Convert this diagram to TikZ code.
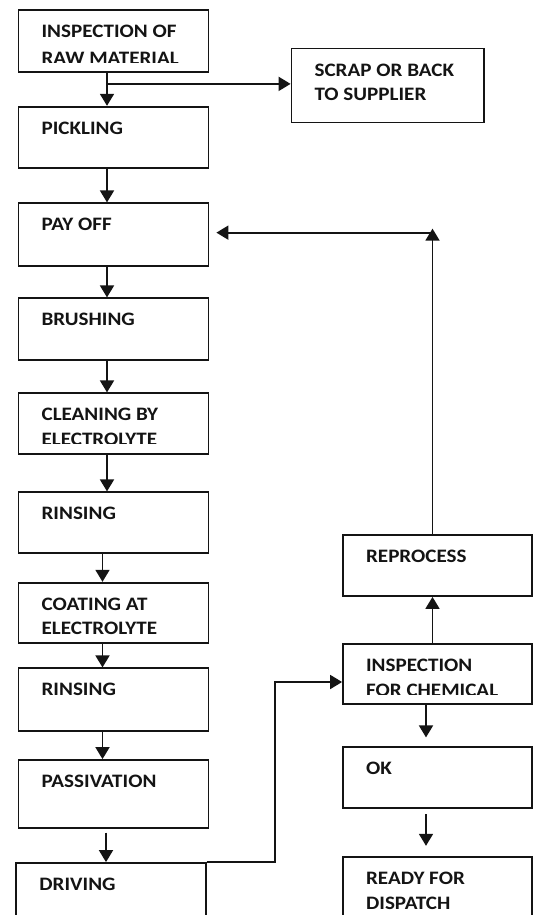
\documentclass[tikz,border=0pt]{standalone}
\usepackage{fontspec}
\setmainfont[FakeStretch=1.11]{Carlito}
\usetikzlibrary{arrows.meta,calc}
\definecolor{linec}{RGB}{20,20,20}
\newcommand\flowlabel[5][25]{%
  \begin{scope}
    \clip (#2.north west) rectangle ($(#2.south east)+(0,-#5)$);
    \node[lbl,anchor=base west] (#2-a) at ($(#2.north west)+(24,28.5)$) {#3};
    \node[lbl,anchor=base west] (#2-b) at ($(#2.north west)+(24,28.5+#1)$) {#4};
  \end{scope}}
\begin{document}
\begin{tikzpicture}[x=1pt,y=-1pt,
  lbl/.style={inner sep=0pt,outer sep=0pt,text=linec,font=\bfseries\fontsize{19}{25}\selectfont},
  flowbox/.style={draw=linec,line width=1.8pt,rectangle,inner sep=0pt},
  arr/.style={draw=linec,line width=1.8pt,-{Triangle[length=12pt,width=14pt]}}]
\useasboundingbox (0,0) rectangle (533,915);
\clip (0,0) rectangle (533,915);
\fill[white] (0,0) rectangle (533,915);

% left column
\node[flowbox,minimum width=190pt,minimum height=62pt] (insp) at (113.5,41) {};
\node[flowbox,minimum width=190pt,minimum height=61.6pt] (pick) at (113.5,137.5) {};
\node[flowbox,minimum width=190pt,minimum height=62.7pt] (payoff) at (113.5,234.65) {};
\node[flowbox,minimum width=190pt,minimum height=61.7pt] (brush) at (113.5,329.15) {};
\node[flowbox,minimum width=190pt,minimum height=61pt] (clean) at (113.5,423.8) {};
\node[flowbox,minimum width=190pt,minimum height=61pt] (rins1) at (113.5,522.8) {};
\node[flowbox,minimum width=190pt,minimum height=60.6pt] (coat) at (113.5,613) {};
\node[flowbox,minimum width=190pt,minimum height=62.4pt] (rins2) at (113.5,699.5) {};
\node[flowbox,minimum width=190pt,minimum height=68.3pt] (pass) at (113.5,794.15) {};
\node[flowbox,minimum width=189.4pt,minimum height=63pt] (driv) at (111,894.5) {};

% right column
\node[flowbox,minimum width=192.5pt,minimum height=74pt] (scrap) at (387.75,85.5) {};
\node[flowbox,minimum width=189pt,minimum height=61pt] (repro) at (437.5,565.5) {};
\node[flowbox,minimum width=189pt,minimum height=60pt] (inspc) at (437.5,674) {};
\node[flowbox,minimum width=189pt,minimum height=61.6pt] (ok) at (437.5,777.5) {};
\node[flowbox,minimum width=189pt,minimum height=63.3pt] (ready) at (437.5,888.35) {};

% labels (clipped inside their boxes)
\flowlabel[27]{insp}{INSPECTION OF}{RAW MATERIAL}{10.5}
\flowlabel{pick}{PICKLING}{}{10}
\flowlabel{payoff}{PAY OFF}{}{10}
\flowlabel{brush}{BRUSHING}{}{10}
\flowlabel{clean}{CLEANING BY}{ELECTROLYTE}{11.5}
\flowlabel{rins1}{RINSING}{}{10}
\flowlabel[24.5]{coat}{COATING AT}{ELECTROLYTE}{6}
\flowlabel{rins2}{RINSING}{}{10}
\flowlabel{pass}{PASSIVATION}{}{10}
\flowlabel{driv}{DRIVING}{}{10}
\flowlabel[24.5]{scrap}{SCRAP OR BACK}{TO SUPPLIER}{8}
\flowlabel{repro}{REPROCESS}{}{10}
\flowlabel{inspc}{INSPECTION}{FOR CHEMICAL}{10}
\flowlabel{ok}{OK}{}{10}
\flowlabel{ready}{READY FOR}{DISPATCH}{4}

% connectors, left column
\draw[arr] ([xshift=-6.5pt]insp.south) -- ([xshift=-6.5pt]pick.north);
\coordinate (br) at ($([xshift=-6.5pt]insp.south)+(0,11)$);
\draw[arr] (br) -- (br -| scrap.west);
\draw[arr] ([xshift=-6.5pt]pick.south) -- ([xshift=-6.5pt]payoff.north);
\draw[arr] ([xshift=-6.5pt]payoff.south) -- ([xshift=-6.5pt]brush.north);
\draw[arr] ([xshift=-6.5pt]brush.south) -- ([xshift=-6.5pt]clean.north);
\draw[arr] ([xshift=-6.5pt]clean.south) -- ([xshift=-6.5pt]rins1.north);
\draw[arr] ([xshift=-11pt]rins1.south) -- ([xshift=-11pt]coat.north);
\draw[arr] ([xshift=-11pt]coat.south) -- ([xshift=-11pt]rins2.north);
\draw[arr] ([xshift=-11pt]rins2.south) -- ([xshift=-11pt]pass.north);
\draw[arr] ($([xshift=-7.5pt]pass.south)+(0,3.4)$) -- ([xshift=-5pt]driv.north);

% driving to inspection for chemical
\draw[arr] (driv.north east) -- ++(68.3,0) |- ([yshift=-8pt]inspc.west);

% right column
\draw[arr] ([xshift=-5pt]inspc.north) -- ([xshift=-5pt]repro.south);
\draw[arr] ([xshift=-11.5pt]inspc.south) -- ($([xshift=-11.5pt]ok.north)+(0,-8.4)$);
\draw[arr] ($([xshift=-11.5pt]ok.south)+(0,5)$) -- ($([xshift=-11.5pt]ready.north)+(0,-10)$);

% feedback loop to pay off
\coordinate (pe) at ([yshift=2pt]payoff.east);
\coordinate (rn) at ([xshift=-5pt]repro.north);
\draw[arr] (rn) -- ($(rn |- pe)+(0,-4)$);
\draw[arr] (rn |- pe) -- ($(pe)+(7,0)$);
\end{tikzpicture}
\end{document}
